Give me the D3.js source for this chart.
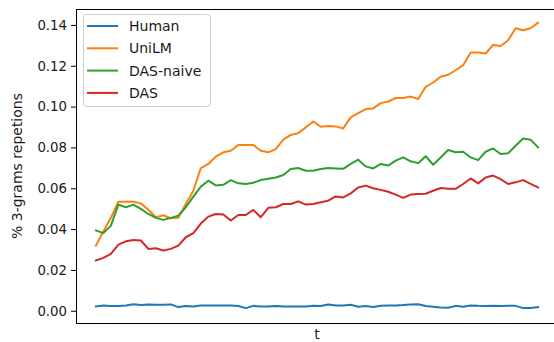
<!DOCTYPE html>
<html><head><meta charset="utf-8">
<script src="https://cdn.jsdelivr.net/npm/d3@7"></script>
<style>body{margin:0;background:#fff}svg{display:block}text{font-family:"DejaVu Sans",sans-serif;fill:#1a1a1a}</style>
</head><body><svg id="c" width="554" height="342"></svg>
<script>
const seriesNames = ["Human", "UniLM", "DAS-naive", "DAS"];
const colors = ["#1f77b4", "#ff7f0e", "#2ca02c", "#d62728"];
const yTicks = [0.00, 0.02, 0.04, 0.06, 0.08, 0.10, 0.12, 0.14];
const human = [0.0021,0.0026,0.0023,0.0023,0.0026,0.0032,0.0028,0.0031,0.0029,0.0029,0.0031,0.0018,0.0023,0.0021,0.0026,0.0026,0.0026,0.0026,0.0026,0.0023,0.0013,0.0024,0.0021,0.0021,0.0023,0.0021,0.0021,0.0021,0.0021,0.0024,0.0023,0.0031,0.0026,0.0026,0.0029,0.0020,0.0023,0.0018,0.0024,0.0026,0.0026,0.0028,0.0031,0.0032,0.0023,0.0020,0.0016,0.0015,0.0024,0.0020,0.0026,0.0024,0.0023,0.0024,0.0023,0.0024,0.0024,0.0013,0.0013,0.0018];
const unilm = [0.0319,0.0389,0.0455,0.0534,0.0534,0.0534,0.0526,0.0495,0.0458,0.0468,0.0453,0.0456,0.0523,0.0588,0.0699,0.0719,0.0755,0.0776,0.0784,0.0812,0.0812,0.0812,0.0784,0.0776,0.0792,0.0838,0.0861,0.0870,0.0898,0.0927,0.0901,0.0905,0.0903,0.0893,0.0947,0.0968,0.0988,0.0991,0.1017,0.1025,0.1042,0.1042,0.1049,0.1037,0.1097,0.1118,0.1146,0.1156,0.1178,0.1203,0.1265,0.1265,0.1260,0.1302,0.1297,0.1325,0.1384,0.1374,0.1384,0.1411];
const dasNaive = [0.0393,0.0380,0.0417,0.0520,0.0507,0.0520,0.0499,0.0474,0.0455,0.0445,0.0455,0.0466,0.0507,0.0559,0.0608,0.0637,0.0614,0.0617,0.0640,0.0624,0.0621,0.0627,0.0640,0.0647,0.0653,0.0665,0.0694,0.0699,0.0686,0.0686,0.0694,0.0699,0.0697,0.0695,0.0719,0.0740,0.0707,0.0697,0.0719,0.0711,0.0735,0.0751,0.0732,0.0723,0.0757,0.0715,0.0751,0.0787,0.0776,0.0779,0.0751,0.0738,0.0779,0.0795,0.0768,0.0771,0.0808,0.0844,0.0838,0.0800];
const das = [0.0246,0.0259,0.0279,0.0324,0.0340,0.0347,0.0344,0.0303,0.0306,0.0295,0.0303,0.0319,0.0360,0.0380,0.0427,0.0461,0.0474,0.0471,0.0442,0.0469,0.0469,0.0494,0.0458,0.0504,0.0507,0.0523,0.0523,0.0536,0.0520,0.0523,0.0531,0.0539,0.0560,0.0555,0.0575,0.0604,0.0613,0.0600,0.0592,0.0583,0.0569,0.0553,0.0569,0.0572,0.0573,0.0588,0.0601,0.0597,0.0597,0.0621,0.0648,0.0624,0.0653,0.0662,0.0645,0.0621,0.0629,0.0640,0.0621,0.0604];
const allSeries = [human, unilm, dasNaive, das];

const svg = d3.select("#c");
const L = 76, R = 558, T = 9, B = 323;
const n = human.length;
const pad = (n - 1) * 0.045;
const x = d3.scaleLinear().domain([-pad, n - 1 + pad]).range([L, R]);
const y = d3.scaleLinear().domain([-0.006, 0.1478]).range([B, T]);

// lines
const line = d3.line().x((d, i) => x(i)).y(d => y(d));
allSeries.forEach((s, k) => {
  svg.append("path").attr("d", line(s)).attr("fill", "none")
    .attr("stroke", colors[k]).attr("stroke-width", 2).attr("stroke-linejoin", "round").attr("stroke-linecap", "square");
});

// y axis
const yAxis = d3.axisLeft(y).tickValues(yTicks).tickFormat(d3.format(".2f")).tickSize(5).tickPadding(4);
const ga = svg.append("g").attr("transform", `translate(${L},0)`).call(yAxis);
ga.select(".domain").remove();
ga.selectAll("line").attr("stroke", "#000").attr("stroke-width", 1);
ga.selectAll("text").attr("font-size", 13.3).attr("fill", "#1a1a1a").style("font-family", '"DejaVu Sans",sans-serif');

// spines
const sp = svg.append("g").attr("fill", "none").attr("stroke", "#000").attr("stroke-width", 1);
sp.append("line").attr("x1", L + 0.5).attr("x2", L + 0.5).attr("y1", T).attr("y2", B + 0.5);
sp.append("line").attr("x1", L).attr("x2", R).attr("y1", B + 0.5).attr("y2", B + 0.5);
sp.append("line").attr("x1", L).attr("x2", R).attr("y1", T + 0.5).attr("y2", T + 0.5);
sp.append("line").attr("x1", R - 0.5).attr("x2", R - 0.5).attr("y1", T).attr("y2", B);

// labels
svg.append("text").attr("x", (L + R) / 2).attr("y", 339).attr("text-anchor", "middle").attr("font-size", 14).text("t");
svg.append("text").attr("transform", `translate(22,${(T + B) / 2}) rotate(-90)`).attr("text-anchor", "middle").attr("font-size", 14).text("% 3-grams repetions");

// legend
const lg = svg.append("g");
lg.append("rect").attr("x", 83.5).attr("y", 14.5).attr("width", 127).attr("height", 92).attr("rx", 3)
  .attr("fill", "#fff").attr("fill-opacity", 0.8).attr("stroke", "#ccc").attr("stroke-width", 1);
seriesNames.forEach((name, k) => {
  const yy = 26 + k * 22.3;
  lg.append("line").attr("x1", 87).attr("x2", 118).attr("y1", yy).attr("y2", yy).attr("stroke", colors[k]).attr("stroke-width", 2);
  lg.append("text").attr("x", 129).attr("y", yy + 5).attr("font-size", 14).text(name);
});
</script></body></html>
